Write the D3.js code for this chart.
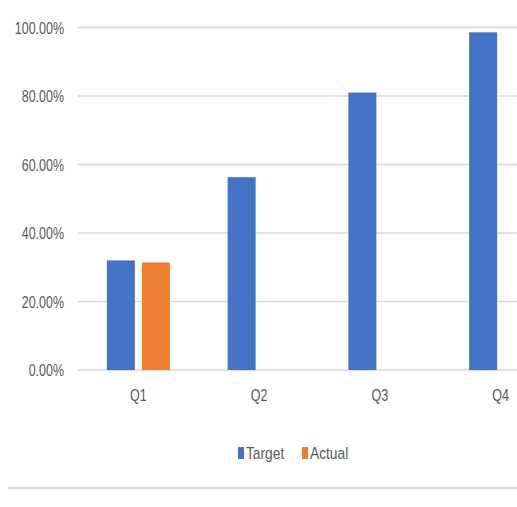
<!DOCTYPE html>
<html>
<head>
<meta charset="utf-8">
<script src="https://cdn.jsdelivr.net/npm/d3@7"></script>
<style>
  html, body { margin: 0; padding: 0; background: #fff; }
  svg { display: block; }
  text { font-family: "Liberation Sans", Arial, sans-serif; fill: #595959; }
</style>
</head>
<body>
<svg id="chart" width="517" height="507"></svg>
<script>
// Quarterly target vs. actual completion
const quarters = ["Q1", "Q2", "Q3", "Q4"];
const seriesNames = ["Target", "Actual"];
const targetValues = [0.320, 0.563, 0.810, 0.986];
const actualValues = [0.314, null, null, null];
const yTicks = [0, 0.2, 0.4, 0.6, 0.8, 1.0];
const seriesColors = ["#4472C4", "#ED7D31"];

const svg = d3.select("#chart");
const plot = { left: 78, right: 561, top: 27.5, bottom: 370 };
const fontSize = 16;
const numSquash = 0.78;   // condensed look for numeric labels
const wordSquash = 0.86;  // condensed look for words

const y = d3.scaleLinear().domain([0, 1]).range([plot.bottom, plot.top]);
const x = d3.scaleBand().domain(quarters).range([plot.left, plot.right]).paddingInner(0).paddingOuter(0);
const inner = d3.scaleBand().domain(seriesNames).range([x.bandwidth() / 2 - 31.5, x.bandwidth() / 2 + 31.5]).paddingInner(0.2);

// gridlines
svg.append("g")
  .selectAll("line")
  .data(yTicks)
  .join("line")
  .attr("x1", plot.left).attr("x2", plot.right)
  .attr("y1", d => y(d)).attr("y2", d => y(d))
  .attr("stroke", "#d9d9d9").attr("stroke-width", 1.5);

// y axis labels
const yAxis = d3.axisLeft(y).tickValues(yTicks).tickFormat(d3.format(".2%")).tickSize(0).tickPadding(14);
const gy = svg.append("g").attr("transform", `translate(${plot.left},0)`).call(yAxis);
gy.select(".domain").remove();
gy.selectAll("text")
  .style("font-size", fontSize + "px")
  .attr("fill", "#595959")
  .attr("dy", "0.35em")
  .attr("x", -14 / numSquash)
  .attr("transform", `scale(${numSquash},1)`);

// x axis labels
const xAxis = d3.axisBottom(x).tickSize(0).tickPadding(20);
const gx = svg.append("g").attr("transform", `translate(0,${plot.bottom})`).call(xAxis);
gx.select(".domain").remove();
gx.selectAll("text")
  .style("font-size", fontSize + "px")
  .attr("fill", "#595959")
  .attr("transform", `scale(${numSquash},1)`);

// bars
const rows = quarters.map((q, i) => ({ q, vals: [targetValues[i], actualValues[i]] }));
const groups = svg.append("g").selectAll("g").data(rows).join("g")
  .attr("transform", d => `translate(${x(d.q)},0)`);
groups.selectAll("rect")
  .data(d => d.vals.map((v, j) => ({ name: seriesNames[j], v, j })).filter(e => e.v != null))
  .join("rect")
  .attr("x", d => inner(d.name))
  .attr("width", inner.bandwidth())
  .attr("y", d => y(d.v))
  .attr("height", d => y(0) - y(d.v))
  .attr("fill", d => seriesColors[d.j]);

// legend
const legendItems = [{ name: "Target", x: 238 }, { name: "Actual", x: 302 }];
const lg = svg.append("g");
legendItems.forEach((it, i) => {
  lg.append("rect").attr("x", it.x).attr("y", 447).attr("width", 6).attr("height", 12).attr("fill", seriesColors[i]);
  lg.append("g").attr("transform", `translate(${it.x + 8},459) scale(${wordSquash},1)`)
    .append("text").style("font-size", fontSize + "px").text(it.name);
});

// bottom divider
svg.append("line").attr("x1", 8).attr("x2", 517).attr("y1", 488).attr("y2", 488)
  .attr("stroke", "#d9d9d9").attr("stroke-width", 2);
</script>
</body>
</html>
